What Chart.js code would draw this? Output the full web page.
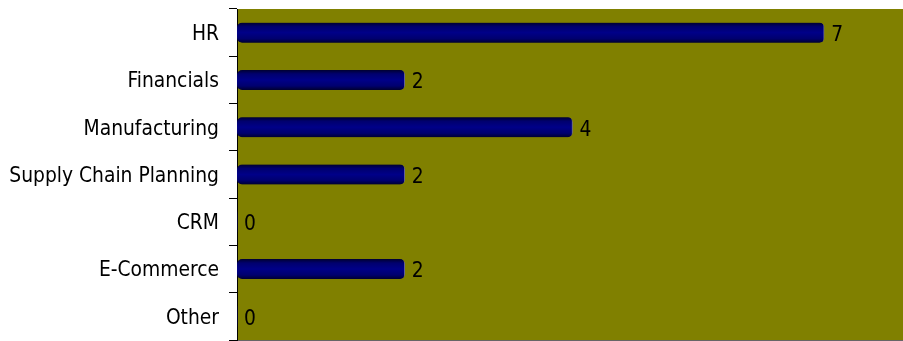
<!DOCTYPE html>
<html>
<head>
<meta charset="utf-8">
<script src="https://cdn.jsdelivr.net/npm/chart.js@4/dist/chart.umd.min.js"></script>
<style>
  html, body { margin: 0; padding: 0; background: #fff; }
  #wrap { width: 903px; height: 341px; }
</style>
</head>
<body>
<div id="wrap"><canvas id="c"></canvas></div>
<script>
    const categories = ['HR', 'Financials', 'Manufacturing', 'Supply Chain Planning', 'CRM', 'E-Commerce', 'Other'];
    const counts = [7, 2, 4, 2, 0, 2, 0];

    const FONT = '"DejaVu Sans Condensed", "DejaVu Sans"';
    const FSIZE = 20.8;

    // olive background + grey bottom line
    const plotBg = {
        id: 'plotBg',
        beforeDraw(chart) {
            const { ctx, chartArea: a } = chart;
            ctx.save();
            ctx.fillStyle = '#808000';
            ctx.fillRect(a.left, a.top, a.right - a.left, a.bottom - a.top);
            ctx.fillStyle = '#666666';
            ctx.fillRect(a.left - 1, a.bottom, a.right - a.left + 1, 2);
            ctx.restore();
        }
    };

    // value labels right of each bar
    const valueLabels = {
        id: 'valueLabels',
        afterDatasetsDraw(chart) {
            const { ctx } = chart;
            const meta = chart.getDatasetMeta(0);
            ctx.save();
            ctx.font = FSIZE + 'px ' + FONT;
            ctx.fillStyle = '#000';
            ctx.textBaseline = 'middle';
            ctx.textAlign = 'left';
            meta.data.forEach((bar, i) => {
                ctx.fillText(String(counts[i]), bar.x + 7, bar.y + 3);
            });
            ctx.restore();
        }
    };

    function barFill(context) {
        const chart = context.chart;
        const ys = chart.scales && chart.scales.y;
        if (!ys || context.dataIndex === undefined) return '#000080';
        const cy = ys.getPixelForValue(context.dataIndex);
        if (!Number.isFinite(cy)) return '#000080';
        const g = chart.ctx.createLinearGradient(0, cy - 10, 0, cy + 10);
        g.addColorStop(0, '#000030');
        g.addColorStop(0.2, '#00006e');
        g.addColorStop(0.5, '#000088');
        g.addColorStop(0.8, '#00006e');
        g.addColorStop(1, '#000030');
        return g;
    }

    new Chart(document.getElementById('c'), {
        type: 'bar',
        data: {
            labels: categories,
            datasets: [{
                data: counts,
                backgroundColor: barFill,
                borderColor: '#6a6a9a',
                borderWidth: { top: 0, bottom: 0, left: 0, right: 1 },
                borderRadius: 5,
                borderSkipped: false,
                barThickness: 20
            }]
        },
        options: {
            indexAxis: 'y',
            responsive: true,
            maintainAspectRatio: false,
            animation: false,
            layout: { padding: { top: 9, bottom: 1, right: 0, left: 0 } },
            plugins: { legend: { display: false }, tooltip: { enabled: false } },
            scales: {
                x: {
                    display: false,
                    min: 0,
                    max: 7.94
                },
                y: {
                    offset: true,
                    afterFit(scale) {
                        scale.width = 237;
                        scale.paddingTop = 0;
                        scale.paddingBottom = 0;
                    },
                    border: { display: true, color: '#000', width: 1 },
                    grid: {
                        offset: true,
                        drawOnChartArea: false,
                        color: '#000',
                        tickLength: 8
                    },
                    ticks: {
                        color: '#000',
                        padding: 10,
                        labelOffset: 2,
                        font: { family: FONT, size: FSIZE }
                    }
                }
            }
        },
        plugins: [plotBg, valueLabels]
    });
</script>
</body>
</html>
